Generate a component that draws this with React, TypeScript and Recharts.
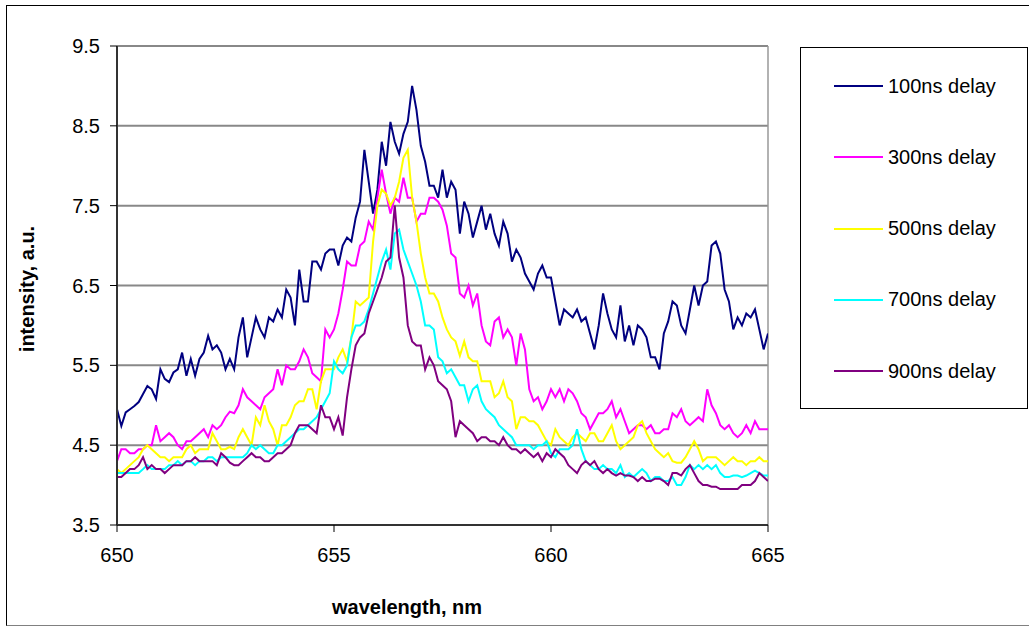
import { CartesianGrid, Legend, Line, LineChart, ReferenceLine, XAxis, YAxis } from "recharts";

// intensity, every 0.1 nm from 650 to 665 nm
const delay100 = [
  4.95, 4.74, 4.91, 4.95, 4.99, 5.04, 5.14, 5.24, 5.2, 5.08,
  5.45, 5.33, 5.29, 5.41, 5.45, 5.66, 5.37, 5.58, 5.37, 5.58,
  5.66, 5.87, 5.7, 5.75, 5.66, 5.45, 5.58, 5.45, 5.85, 6.1,
  5.6, 5.85, 6.1, 5.95, 5.85, 6.1, 6.05, 6.2, 6.1, 6.45,
  6.35, 6.0, 6.7, 6.3, 6.3, 6.8, 6.8, 6.7, 6.9, 6.95,
  6.95, 6.75, 7.0, 7.1, 7.05, 7.35, 7.55, 8.2, 7.8, 7.4,
  7.7, 8.3, 8.0, 8.55, 8.3, 8.15, 8.4, 8.55, 9.0, 8.7,
  8.25, 8.05, 7.75, 7.75, 7.6, 7.95, 7.6, 7.8, 7.7, 7.15,
  7.55, 7.4, 7.1, 7.3, 7.5, 7.2, 7.4, 7.15, 7.0, 7.3,
  7.15, 6.8, 6.95, 6.85, 6.65, 6.55, 6.45, 6.65, 6.75, 6.6,
  6.6, 6.3, 6.0, 6.2, 6.15, 6.1, 6.2, 6.05, 6.1, 5.9,
  5.7, 6.0, 6.4, 6.15, 5.95, 5.85, 6.25, 5.8, 6.0, 5.75,
  6.0, 5.95, 5.85, 5.6, 5.6, 5.45, 5.9, 6.05, 6.3, 6.25,
  6.0, 5.9, 6.2, 6.5, 6.25, 6.5, 6.55, 7.0, 7.05, 6.9,
  6.45, 6.3, 5.95, 6.1, 6.0, 6.15, 6.1, 6.2, 5.95, 5.7,
  5.9,
];

const delay300 = [
  4.3, 4.45, 4.45, 4.4, 4.4, 4.45, 4.45, 4.5, 4.5, 4.75,
  4.55, 4.6, 4.65, 4.6, 4.5, 4.45, 4.55, 4.55, 4.6, 4.65,
  4.7, 4.6, 4.75, 4.7, 4.75, 4.85, 4.92, 4.9, 5.0, 5.2,
  5.1, 5.05, 5.0, 4.95, 5.1, 5.15, 5.2, 5.45, 5.25, 5.5,
  5.45, 5.45, 5.55, 5.7, 5.6, 5.4, 5.35, 5.3, 5.95, 5.85,
  5.95, 6.15, 6.45, 6.8, 6.75, 6.75, 7.0, 7.05, 7.3, 7.2,
  7.6, 7.95, 7.65, 7.4, 7.6, 7.55, 7.85, 7.6, 7.6, 7.3,
  7.4, 7.4, 7.6, 7.6, 7.55, 7.45, 7.25, 6.9, 6.85, 6.4,
  6.35, 6.5, 6.25, 6.4, 6.0, 5.8, 5.75, 6.05, 6.1, 5.85,
  5.95, 5.85, 5.5, 5.9, 5.7, 5.2, 5.05, 5.1, 4.95, 5.05,
  5.2, 5.1, 5.2, 5.05, 5.2, 5.15, 5.05, 4.9, 4.85, 4.7,
  4.8, 4.9, 4.9, 4.95, 5.05, 4.85, 4.95, 4.8, 4.65, 4.7,
  4.75, 4.75, 4.7, 4.75, 4.65, 4.65, 4.7, 4.7, 4.9, 4.85,
  4.95, 4.8, 4.75, 4.8, 4.85, 4.8, 5.2, 5.0, 4.9, 4.75,
  4.7, 4.75, 4.65, 4.6, 4.65, 4.75, 4.65, 4.8, 4.7, 4.7,
  4.7,
];

const delay500 = [
  4.2, 4.15, 4.2, 4.25, 4.3, 4.35, 4.45, 4.5, 4.45, 4.4,
  4.35, 4.35, 4.3, 4.35, 4.35, 4.35, 4.45, 4.5, 4.4, 4.45,
  4.45, 4.45, 4.65, 4.55, 4.45, 4.45, 4.48, 4.45, 4.6, 4.7,
  4.6, 4.5, 4.85, 4.75, 5.0, 4.8, 4.7, 4.5, 4.75, 4.75,
  4.85, 5.0, 5.05, 5.05, 5.2, 5.2, 4.95, 5.3, 5.45, 5.45,
  5.45, 5.6, 5.7, 5.55, 5.85, 6.3, 6.25, 6.3, 6.35, 7.05,
  7.5, 7.7, 7.65, 7.5, 7.6, 7.8, 8.1, 8.2, 7.6, 7.3,
  6.9, 6.6, 6.4, 6.4, 6.3, 6.1, 5.95, 5.85, 5.8, 5.62,
  5.8, 5.6, 5.55, 5.55, 5.3, 5.3, 5.3, 5.1, 5.15, 5.3,
  5.1, 5.05, 4.7, 4.85, 4.85, 4.8, 4.8, 4.75, 4.65, 4.55,
  4.5, 4.7, 4.6, 4.55, 4.5, 4.6, 4.65, 4.6, 4.55, 4.65,
  4.65, 4.55, 4.55, 4.65, 4.75, 4.55, 4.45, 4.5, 4.55, 4.6,
  4.75, 4.8, 4.65, 4.55, 4.45, 4.4, 4.35, 4.4, 4.3, 4.28,
  4.28, 4.35, 4.45, 4.55, 4.45, 4.3, 4.35, 4.35, 4.35, 4.3,
  4.25, 4.3, 4.35, 4.3, 4.3, 4.25, 4.3, 4.3, 4.35, 4.3,
  4.3,
];

const delay700 = [
  4.15, 4.15, 4.15, 4.15, 4.15, 4.15, 4.2, 4.25, 4.2, 4.2,
  4.2, 4.2, 4.25, 4.25, 4.3, 4.25, 4.3, 4.3, 4.25, 4.3,
  4.3, 4.35, 4.35, 4.3, 4.35, 4.35, 4.35, 4.35, 4.35, 4.35,
  4.4, 4.5, 4.45, 4.5, 4.45, 4.4, 4.4, 4.5, 4.5, 4.55,
  4.6, 4.65, 4.7, 4.7, 4.75, 4.8, 4.85, 4.95, 5.05, 5.15,
  5.55, 5.45, 5.4, 5.5, 5.85, 6.0, 6.0, 6.05, 6.2, 6.4,
  6.6, 6.8, 6.95, 6.7, 7.15, 7.2, 6.95, 6.8, 6.65, 6.5,
  6.3, 6.0, 6.0, 5.95, 5.6, 5.55, 5.4, 5.45, 5.35, 5.25,
  5.25, 5.05, 5.2, 5.25, 5.05, 4.95, 4.9, 4.85, 4.75, 4.7,
  4.65, 4.6, 4.5, 4.5, 4.5, 4.5, 4.45, 4.5, 4.5, 4.55,
  4.4, 4.35, 4.45, 4.45, 4.45, 4.5, 4.7, 4.45, 4.3, 4.25,
  4.2, 4.2, 4.25, 4.2, 4.2, 4.15, 4.25, 4.1, 4.15, 4.1,
  4.15, 4.2, 4.15, 4.05, 4.1, 4.1, 4.05, 4.05, 4.1, 4.0,
  4.0, 4.1, 4.25, 4.2, 4.25, 4.2, 4.25, 4.2, 4.25, 4.15,
  4.1, 4.1, 4.12, 4.12, 4.1, 4.12, 4.15, 4.18, 4.15, 4.12,
  4.12,
];

const delay900 = [
  4.1, 4.1, 4.15, 4.2, 4.2, 4.25, 4.35, 4.2, 4.25, 4.2,
  4.2, 4.15, 4.2, 4.25, 4.25, 4.25, 4.3, 4.3, 4.35, 4.3,
  4.3, 4.3, 4.3, 4.25, 4.4, 4.35, 4.28, 4.25, 4.25, 4.3,
  4.35, 4.4, 4.35, 4.35, 4.3, 4.3, 4.35, 4.4, 4.4, 4.45,
  4.5, 4.65, 4.75, 4.75, 4.75, 4.7, 4.65, 5.0, 4.85, 4.85,
  4.7, 4.85, 4.62, 5.1, 5.45, 5.75, 5.85, 5.9, 6.15, 6.3,
  6.45, 6.6, 6.8, 6.85, 7.5, 6.85, 6.6, 6.0, 5.8, 5.75,
  5.75, 5.45, 5.6, 5.5, 5.3, 5.25, 5.2, 5.05, 4.6, 4.8,
  4.75, 4.7, 4.65, 4.55, 4.6, 4.6, 4.55, 4.55, 4.5, 4.6,
  4.5, 4.45, 4.45, 4.4, 4.45, 4.4, 4.35, 4.4, 4.3, 4.4,
  4.35, 4.45, 4.4, 4.35, 4.25, 4.2, 4.15, 4.25, 4.3, 4.25,
  4.3, 4.2, 4.15, 4.2, 4.15, 4.12, 4.15, 4.12, 4.12, 4.1,
  4.05, 4.1, 4.05, 4.05, 4.08, 4.08, 4.05, 4.0, 4.15, 4.15,
  4.12, 4.2, 4.25, 4.15, 4.05, 4.0, 4.0, 3.98, 3.98, 3.95,
  3.95, 3.95, 3.95, 3.95, 4.0, 4.0, 4.0, 4.05, 4.15, 4.1,
  4.05,
];

const WL_START = 650;
const WL_STEP = 0.1;
const wavelengths = delay100.map((_, i) => +(WL_START + i * WL_STEP).toFixed(1));

const xTicks = [650, 655, 660, 665];
const yTicks = [3.5, 4.5, 5.5, 6.5, 7.5, 8.5, 9.5];

const series = [
  { key: "d100", name: "100ns delay", color: "#000080", values: delay100 },
  { key: "d300", name: "300ns delay", color: "#ff00ff", values: delay300 },
  { key: "d500", name: "500ns delay", color: "#ffff00", values: delay500 },
  { key: "d700", name: "700ns delay", color: "#00ffff", values: delay700 },
  { key: "d900", name: "900ns delay", color: "#800080", values: delay900 },
];

const data = wavelengths.map((wl, i) => {
  const row: Record<string, number> = { wl };
  series.forEach((s) => (row[s.key] = s.values[i]));
  return row;
});

const FONT = '"Liberation Sans", Arial, sans-serif';

function LegendBox({ payload }: any) {
  return (
    <div
      style={{
        width: 228,
        height: 362,
        boxSizing: "border-box",
        border: "1px solid #000",
        background: "#fff",
        position: "relative",
        fontFamily: FONT,
      }}
    >
      {(payload || []).map((entry: any, i: number) => (
        <div
          key={entry.value}
          style={{
            position: "absolute",
            left: 33,
            top: 26 + i * 71.3,
            height: 24,
            display: "flex",
            alignItems: "center",
            whiteSpace: "nowrap",
          }}
        >
          <span style={{ display: "inline-block", width: 49, height: 2, background: entry.color, marginRight: 5 }} />
          <span style={{ fontSize: 20, color: "#000" }}>{entry.value}</span>
        </div>
      ))}
    </div>
  );
}

export default function App() {
  return (
    <div style={{ position: "absolute", left: 0, top: 0, width: 1029, height: 626, overflow: "hidden", background: "#fff" }}>
      <div
        style={{
          position: "absolute",
          left: 6,
          top: 5,
          width: 1040,
          height: 619,
          borderLeft: "1.5px solid #000",
          borderTop: "1.5px solid #000",
          borderBottom: "1.5px solid #808080",
        }}
      />
      <div style={{ position: "absolute", left: 0, top: 0 }}>
        <LineChart width={1029} height={626} data={data} margin={{ top: 46, right: 261, left: 57, bottom: 41 }}>
          <CartesianGrid vertical={false} stroke="#888" strokeWidth={2} />
          <XAxis
            dataKey="wl"
            type="number"
            domain={[650, 665]}
            ticks={xTicks}
            height={60}
            allowDataOverflow
            stroke="#333"
            strokeWidth={2}
            tickSize={7}
            tickMargin={16}
            tick={{ fontSize: 20, fill: "#000", fontFamily: FONT }}
            tickLine={{ stroke: "#000", strokeWidth: 1 }}
            label={{
              content: () => (
                <text x={407} y={614} textAnchor="middle" fontFamily={FONT} fontSize={20} fontWeight="bold" fill="#000">
                  wavelength, nm
                </text>
              ),
            }}
          />
          <YAxis
            type="number"
            domain={[3.5, 9.5]}
            ticks={yTicks}
            width={60}
            allowDataOverflow
            stroke="#333"
            strokeWidth={2}
            tickSize={7}
            tickMargin={10}
            tick={{ fontSize: 20, fill: "#000", fontFamily: FONT }}
            tickLine={{ stroke: "#000", strokeWidth: 1 }}
            label={{
              content: () => (
                <text
                  x={27}
                  y={289}
                  transform="rotate(-90 27 289)"
                  textAnchor="middle"
                  dominantBaseline="central"
                  fontFamily={FONT}
                  fontSize={20}
                  fontWeight="bold"
                  fill="#000"
                >
                  intensity, a.u.
                </text>
              ),
            }}
          />
          <ReferenceLine x={665} stroke="#999" strokeWidth={1.5} />
          {series.map((s) => (
            <Line
              key={s.key}
              dataKey={s.key}
              name={s.name}
              stroke={s.color}
              strokeWidth={2}
              dot={false}
              type="linear"
              isAnimationActive={false}
            />
          ))}
          <Legend
            layout="vertical"
            align="center"
            verticalAlign="middle"
            wrapperStyle={{ left: 800, top: 47, width: 228, height: 362 }}
            content={LegendBox}
          />
        </LineChart>
      </div>
    </div>
  );
}
